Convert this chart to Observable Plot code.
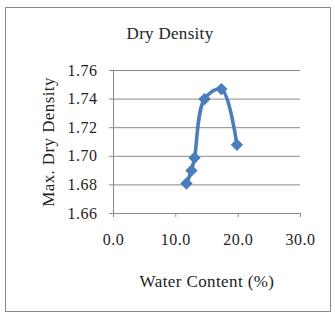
<!DOCTYPE html>
<html><head><meta charset="utf-8">
<script src="https://cdn.jsdelivr.net/npm/d3@7"></script>
<script src="https://cdn.jsdelivr.net/npm/@observablehq/plot@0.6"></script>
<style>
html,body{margin:0;padding:0;background:#fff;}
#wrap{position:relative;width:335px;height:316px;overflow:hidden;}
#frame{position:absolute;left:5px;top:7px;width:326px;height:305px;border:1px solid #8a8a8a;box-sizing:border-box;}
#title{position:absolute;left:0;width:340px;top:24px;text-align:center;font:17px "Liberation Serif",serif;letter-spacing:0.3px;color:#222;}
#chart{position:absolute;left:0;top:0;}
#chart g[aria-label="x-axis label"] text, #chart g[aria-label="y-axis label"] text{font-size:17px;letter-spacing:0.4px;}
#chart g[aria-label="x-axis tick label"] text, #chart g[aria-label="y-axis tick label"] text{letter-spacing:0.5px;}
</style></head>
<body>
<div id="wrap"><div id="frame"></div><div id="title">Dry Density</div><div id="chart"></div></div>
<script>
const title = "Dry Density";
const xLabel = "Water Content (%)";
const yLabel = "Max. Dry Density";
const waterContent = [11.7, 12.5, 13.0, 14.6, 17.3, 19.8];
const dryDensity = [1.681, 1.690, 1.699, 1.740, 1.747, 1.708];
const xTicks = [0, 10, 20, 30];
const yTicks = [1.66, 1.68, 1.70, 1.72, 1.74, 1.76];

document.getElementById("title").textContent = title;
const data = waterContent.map((w, i) => ({w, d: dryDensity[i]}));
const blue = "#4a7ebb";
const grid = "#8a8a8a";

const plot = Plot.plot({
  width: 335, height: 316,
  marginLeft: 113, marginRight: 35, marginTop: 70, marginBottom: 103,
  style: {fontFamily: "'Liberation Serif', serif", fontSize: "16px", color: "#222", background: "transparent"},
  x: {domain: [0, 30], ticks: xTicks, tickFormat: d3.format(".1f")},
  y: {domain: [1.66, 1.76], ticks: yTicks, tickFormat: d3.format(".2f")},
  marks: [
    Plot.ruleY(yTicks.slice(1), {stroke: grid, strokeWidth: 1}),
    Plot.ruleX([0], {stroke: grid}),
    Plot.ruleY([1.66], {stroke: grid}),
    Plot.axisX({ticks: xTicks, tickSize: 4, tickPadding: 16, stroke: grid, label: xLabel, labelAnchor: "center", labelOffset: 73, labelArrow: "none", tickFormat: d3.format(".1f")}),
    Plot.axisY({ticks: yTicks, tickSize: 4, tickPadding: 12, stroke: grid, label: yLabel, labelAnchor: "center", labelOffset: 72, labelArrow: "none", tickFormat: d3.format(".2f")}),
    Plot.line(data, {x: "w", y: "d", stroke: blue, strokeWidth: 3.6, curve: "catmull-rom"}),
    Plot.dot(data, {x: "w", y: "d", symbol: "diamond2", r: 4.6, fill: blue, stroke: blue})
  ]
});
document.getElementById("chart").appendChild(plot);
</script>
</body></html>
